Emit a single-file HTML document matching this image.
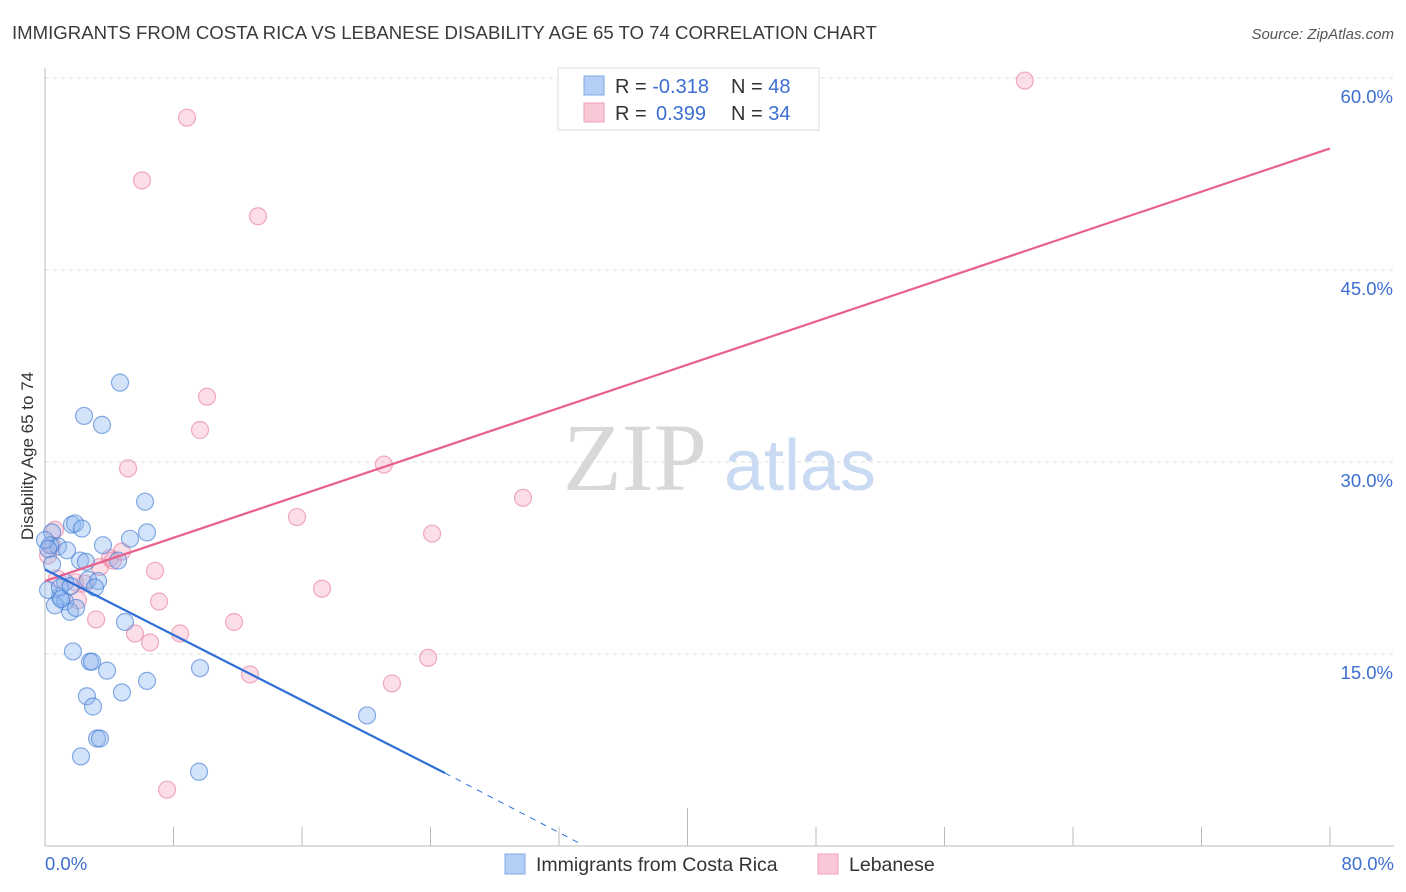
<!DOCTYPE html>
<html><head><meta charset="utf-8"><style>
body{margin:0;background:#fff;font-family:"Liberation Sans",sans-serif;}
svg{display:block}
</style></head><body>
<svg width="1406" height="892" viewBox="0 0 1406 892" xmlns="http://www.w3.org/2000/svg">
<text x="12" y="39" font-size="18.6" fill="#3a3a3a">IMMIGRANTS FROM COSTA RICA VS LEBANESE DISABILITY AGE 65 TO 74 CORRELATION CHART</text>
<text x="1394" y="39" font-size="15" fill="#555" font-style="italic" text-anchor="end">Source: ZipAtlas.com</text>
<g id="grid"></g>
<g>
<text x="635" y="490" font-size="96" font-family="Liberation Serif,serif" fill="#d8d8d8" text-anchor="middle">ZIP</text>
<text x="800" y="490" font-size="72" fill="#c9daf2" text-anchor="middle">atlas</text>
</g>
<line x1="45" y1="68" x2="45" y2="846" stroke="#bbb"/>
<line x1="45" y1="846" x2="1394" y2="846" stroke="#bbb"/>
<g id="ticks"></g>
<g id="ylabels"></g>
<text x="45" y="870" font-size="18.5" fill="#3d6fd1">0.0%</text>
<text x="1394" y="870" font-size="18.5" fill="#3d6fd1" text-anchor="end">80.0%</text>
<text transform="translate(33,456) rotate(-90)" font-size="17" fill="#333" text-anchor="middle">Disability Age 65 to 74</text>
<g id="pts"></g>
<g id="lines"></g>
<g>
<rect x="558" y="68" width="261" height="62" fill="#fff" stroke="#ddd"/>
<rect x="584" y="76" width="20" height="19" fill="#b3cff5" stroke="#7fa8e6"/>
<rect x="584" y="103" width="20" height="19" fill="#f9c8d6" stroke="#ef9fb7"/>
<text x="615" y="93" font-size="20" fill="#333">R = <tspan fill="#3d6fd1">-0.318</tspan><tspan x="731">N = </tspan><tspan fill="#3d6fd1">48</tspan></text>
<text x="615" y="120" font-size="20" fill="#333">R = <tspan fill="#3d6fd1" x="656">0.399</tspan><tspan x="731">N = </tspan><tspan fill="#3d6fd1">34</tspan></text>
</g>
<g>
<rect x="505" y="854" width="20" height="20" fill="#b3cff5" stroke="#7fa8e6"/>
<text x="536" y="871" font-size="19.5" fill="#333">Immigrants from Costa Rica</text>
<rect x="818" y="854" width="20" height="20" fill="#f9c8d6" stroke="#ef9fb7"/>
<text x="849" y="871" font-size="19.5" fill="#333">Lebanese</text>
</g>
</svg>
<script>
const yTicks=[15,30,45,60];
const yTickLabels=["15.0%","30.0%","45.0%","60.0%"];
const xTicks=[8,16,24,32,40,48,56,64,72,80];
const blueX=[4.67,2.43,3.55,6.23,1.68,1.87,2.30,6.35,0.44,3.61,5.29,0.81,1.37,0.31,2.18,2.55,4.55,0.44,1.25,2.68,3.30,3.11,0.93,1.25,0.62,1.56,1.93,4.98,1.74,2.80,2.93,3.86,9.65,6.35,2.61,4.79,2.99,20.05,3.24,3.42,2.24,9.59,0.19,0.0,0.93,0.2,1.0,1.6];
const blueY=[36.2,33.6,32.9,26.9,25.1,25.2,24.8,24.5,24.5,23.5,24.0,23.4,23.1,23.5,22.3,22.2,22.3,22.0,20.6,20.8,20.7,20.2,19.5,19.1,18.8,18.3,18.6,17.5,15.2,14.4,14.4,13.7,13.9,12.9,11.7,12.0,10.9,10.2,8.4,8.4,7.0,5.8,20.0,23.9,20.2,23.2,19.3,20.3];
const pinkX=[61.0,8.84,6.04,13.26,10.09,9.65,5.17,21.1,29.76,15.69,24.1,0.62,0.44,4.79,4.05,3.42,6.85,0.75,1.87,2.49,17.25,2.05,7.10,3.18,11.77,5.60,8.41,6.54,23.85,12.76,21.6,7.6,0.19,4.23];
const pinkY=[59.8,56.9,52.0,49.2,35.1,32.5,29.5,29.8,27.2,25.7,24.4,24.7,23.5,23.0,22.5,21.8,21.5,20.9,20.6,20.5,20.1,19.2,19.1,17.7,17.5,16.6,16.6,15.9,14.7,13.4,12.7,4.4,22.7,22.3];
const blueTrend=[[0,21.6],[24.9,5.7]];
const blueDash=[[24.9,5.7],[33.3,0.2]];
const pinkTrend=[[0,20.7],[80,54.5]];
const NS="http://www.w3.org/2000/svg";
const X=v=>45+v/80*1285, Y=v=>846-v/60*768;
function mk(t,a,p){const e=document.createElementNS(NS,t);for(const k in a)e.setAttribute(k,a[k]);p.appendChild(e);return e;}
const grid=document.getElementById('grid'),yl=document.getElementById('ylabels'),tk=document.getElementById('ticks');
yTicks.forEach((v,i)=>{
 const l=mk('line',{x1:45,x2:1394,y1:Y(v),y2:Y(v),stroke:'#ddd','stroke-dasharray':'4,4'},grid);
 
 
 const t=mk('text',{x:1393,y:Y(v)+25,'font-size':18.5,fill:'#3d6fd1','text-anchor':'end'},yl);
 t.textContent=yTickLabels[i];
 
 
});
xTicks.forEach(v=>{
 const l=mk('line',{x1:X(v),x2:X(v),y1:v==40?808:827,y2:846,stroke:'#bbb'},tk);
 
 
});
const pts=document.getElementById('pts');
pinkX.forEach((x,i)=>{
 const c=mk('circle',{cx:X(x),cy:Y(pinkY[i]),r:8.5,fill:'rgba(244,160,186,0.35)',stroke:'rgba(232,120,155,0.6)','stroke-width':1.2},pts);
 
 
});
blueX.forEach((x,i)=>{
 const c=mk('circle',{cx:X(x),cy:Y(blueY[i]),r:8.5,fill:'rgba(140,182,238,0.38)',stroke:'rgba(60,120,210,0.6)','stroke-width':1.2},pts);
 
 
});
const ln=document.getElementById('lines');
function line(p,col,dash,name,w){const l=mk('line',{x1:X(p[0][0]),y1:Y(p[0][1]),x2:X(p[1][0]),y2:Y(p[1][1]),stroke:col,'stroke-width':w},ln);if(dash)l.setAttribute('stroke-dasharray',dash);
 
 }
line(pinkTrend,'#e8608c',null,'lebanese-trend-line',2.2);
line(blueTrend,'#2f6fd6',null,'costa-rica-trend-line',2.2);
line(blueDash,'#2f6fd6','6,6','costa-rica-trend-extension',1);
</script>
</body></html>
